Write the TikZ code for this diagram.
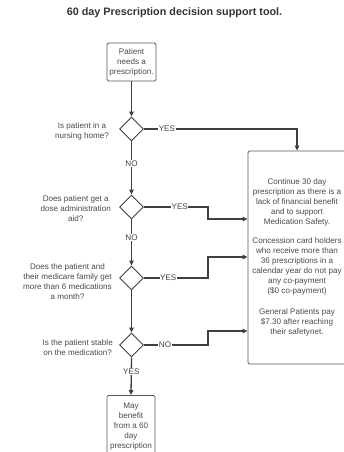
\documentclass[tikz,border=0pt]{standalone}
\usepackage{fontspec}
\setmainfont{Liberation Sans}
\usetikzlibrary{shapes.geometric,arrows.meta}
\definecolor{ln}{HTML}{3A4049}
\definecolor{tx}{HTML}{4A4A4A}
\definecolor{bd}{HTML}{555A61}
\tikzset{
  conn/.style={draw=ln, line width=1.3pt, -{Triangle[length=5pt,width=4.5pt]}},
  box/.style={draw=bd, line width=0.8pt, rounded corners=1.5pt, align=center, text=tx, font=\fontsize{8.1}{10}\selectfont, inner sep=0pt},
  dec/.style={diamond, draw=ln, line width=0.9pt, minimum width=24pt, minimum height=24pt, inner sep=0pt, aspect=1},
  quest/.style={anchor=east, align=center, text=tx, font=\fontsize{8.1}{10}\selectfont, inner sep=0pt},
  lbl/.style={fill=white, text=ln, font=\fontsize{8.1}{9}\selectfont, inner sep=0.6pt}
}
\begin{document}
\begin{tikzpicture}[x=1pt,y=-1pt]
\useasboundingbox[fill=white] (0,0) rectangle (344,452);
\node[font=\bfseries\fontsize{10.8}{12}\selectfont, text=black!80] (title) at (174.5,13) {60 day Prescription decision support tool.};
\node[box, minimum width=49pt, minimum height=38pt] (start) at (131.5,62) {Patient\\needs a\\prescription.};
\node[dec] (d1) at (131.5,129) {};
\node[dec] (d2) at (131.5,207) {};
\node[dec] (d3) at (131.5,278) {};
\node[dec] (d4) at (131.5,345) {};
\node[quest] (q1) at (109,131) {Is patient in a\\nursing home?};
\node[quest] (q2) at (111,209) {Does patient get a\\dose administration\\aid?};
\node[quest] (q3) at (112,282) {Does the patient and\\their medicare family get\\more than 6 medications\\a month?};
\node[quest] (q4) at (113,348) {Is the patient stable\\on the medication?};
\node[box, minimum width=98pt, minimum height=213pt] (info) at (297,257.5) {Continue 30 day\\prescription as there is a\\lack of financial benefit\\and to support\\Medication Safety.\\[9pt]Concession card holders\\who receive more than\\36 prescriptions in a\\calendar year do not pay\\any co-payment\\(\$0 co-payment)\\[11pt]General Patients pay\\\$7.30 after reaching\\their safetynet.};
\node[box, minimum width=48pt, minimum height=62pt, anchor=north] (final) at (131,395) {May\\benefit\\from a 60\\day\\prescription};
\coordinate (y219) at (0,219);
\coordinate (y257) at (0,257);
\coordinate (y331) at (0,331);
\draw[conn] (start.south) -- (d1.north);
\draw[conn] (d1.east) -- node[lbl,pos=0.15]{YES} (info.north |- d1.east) -- (info.north);
\draw[conn] (d1.south) -- node[lbl,pos=0.41]{NO} (d2.north);
\draw[conn] (d2.east) -- node[lbl,pos=0.56]{YES} ++(64,0) |- (info.west |- y219);
\draw[conn] (d2.south) -- node[lbl,pos=0.4]{NO} (d3.north);
\draw[conn] (d3.east) -- node[lbl,pos=0.38]{YES} ++(64,0) |- (info.west |- y257);
\draw[conn] (d3.south) -- (d4.north);
\draw[conn] (d4.east) -- node[lbl,pos=0.33]{NO} ++(64,0) |- (info.west |- y331);
\draw[conn] (d4.south) -- node[lbl,pos=0.37]{YES} (final.north);
\end{tikzpicture}
\end{document}
